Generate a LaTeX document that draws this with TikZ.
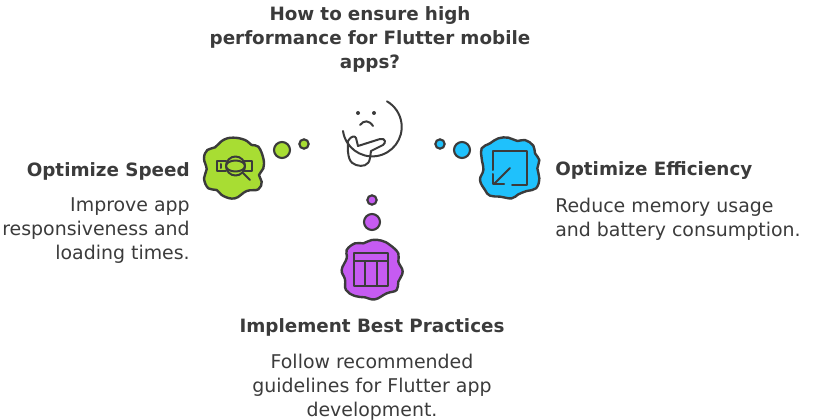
\documentclass[tikz,border=0pt]{standalone}
\usepackage{fontspec}
\setmainfont{DejaVu Sans}
\usetikzlibrary{arrows.meta,positioning}
\definecolor{inkgray}{HTML}{3B3B3B}
\definecolor{leafgreen}{HTML}{A8DD33}
\definecolor{skyblue}{HTML}{1FC1FC}
\definecolor{grapepurple}{HTML}{C65BF2}
\begin{document}
\begin{tikzpicture}[x=0.75pt,y=-0.75pt,>=Stealth,
  head/.style={font=\fontsize{13.75}{17.7}\selectfont\bfseries,text=inkgray,inner sep=0pt,align=center},
  body/.style={font=\fontsize{14.2}{18}\selectfont,text=inkgray,inner sep=0pt},
  bubble/.style={circle,draw=inkgray,line width=1.6pt,inner sep=0pt},
  bigb/.style={bubble,minimum size=12pt},
  smallb/.style={bubble,minimum size=7pt},
  blob/.style={draw=inkgray,line width=1.8pt,line join=round},
  icon/.style={draw=inkgray,line width=1.5pt,line cap=round,line join=round}]
  \useasboundingbox (0,0) rectangle (816,420);

  % texts
  \node[head,text width=345pt] (title) at (370,39.5) {How to ensure high\\performance for Flutter mobile\\apps?};
  \node[head,anchor=east] (speed) at (190,171) {Optimize Speed};
  \node[body,align=right,below left=13pt and 0pt of speed.south east] (speedtxt) {Improve app\\responsiveness and\\loading times.};
  \node[head,anchor=west] (eff) at (555,171) {Optimize Efficiency};
  \node[body,align=left,below right=13pt and 0pt of eff.south west] (efftxt) {Reduce memory usage\\and battery consumption.};
  \node[head] (best) at (372,327) {Implement Best Practices};
  \node[body,align=center,below=13pt of best] (besttxt) {Follow recommended\\guidelines for Flutter app\\development.};

  % thought bubbles
  \node[bigb,fill=leafgreen] (g1) at (282,150) {};
  \node[smallb,fill=leafgreen] (g2) at (304,144) {};
  \node[bigb,fill=skyblue] (b1) at (462,150) {};
  \node[smallb,fill=skyblue] (b2) at (440,144) {};
  \node[bigb,fill=grapepurple] (p1) at (372,222) {};
  \node[smallb,fill=grapepurple] (p2) at (372,200) {};

  % blobs
  \begin{scope}[shift={(190,90)},x=0.25pt,y=-0.25pt]
    \draw[blob,fill=leafgreen] plot[smooth cycle,tension=0.7] coordinates {(130,143) (165,150) (185,165) (205,170) (220,205) (220,235) (207,255) (215,275) (205,298) (170,303) (135,325) (100,318) (80,300) (55,295) (42,265) (50,238) (42,205) (52,180) (75,172) (100,150)};
  \end{scope}
  \begin{scope}[shift={(430,125)},x=0.25pt,y=-0.25pt]
    \draw[blob,fill=skyblue] plot[smooth cycle,tension=0.7] coordinates {(205,40) (235,38) (262,48) (285,45) (310,62) (315,85) (328,105) (322,130) (328,160) (318,190) (290,198) (265,208) (245,220) (210,215) (180,212) (165,195) (150,165) (160,135) (155,100) (155,70) (180,55)};
  \end{scope}
  \begin{scope}[shift={(330,190)},x=0.25pt,y=-0.25pt]
    \draw[blob,fill=grapepurple] plot[smooth cycle,tension=0.7] coordinates {(125,150) (155,152) (180,165) (205,190) (205,215) (218,245) (205,275) (200,300) (170,310) (135,328) (105,322) (75,318) (48,300) (45,268) (35,240) (50,205) (50,180) (75,160) (100,160)};
  \end{scope}

  % face
  \draw[icon] (343,131) arc[start angle=172,end angle=-60,radius=29.5];
  \fill[inkgray] (358,113) circle (2) (374,113) circle (2);
  \draw[icon] (360,125) .. controls (364,120) and (369,120) .. (373,126);
  \draw[icon] (348,141) .. controls (352,135) and (355,136) .. (356,138) -- (358,146)
    -- (380,139) .. controls (386,138) and (386,143) .. (383,145) -- (371,151) -- (370,158)
    .. controls (369,166) and (362,167) .. (356,165) .. controls (350,163) and (347,158) .. (348,141) -- cycle;

  % speed icon
  \draw[icon] (226,161) -- (217,161) -- (217,171) -- (226,171);
  \draw[icon] (243,161) -- (252,161) -- (252,171) -- (243,171);
  \draw[icon] (221,164) -- (221,168);
  \draw[icon] (235.5,166) circle (9.5);
  \draw[icon] (235.5,166) ellipse (9.5 and 5.5);
  \draw[icon] (243,173) -- (250,180);

  % efficiency icon
  \draw[icon] (492.5,170) -- (492.5,151) -- (526.5,151) -- (526.5,185) -- (512,185);
  \draw[icon] (510,168) -- (494,184);
  \draw[icon] (493,174) -- (493,184.5) -- (504,184.5);

  % practices icon
  \draw[icon] (354,252.5) rectangle (387.5,285.5);
  \draw[icon] (354,261) -- (387.5,261);
  \draw[icon] (365,261) -- (365,285.5);
  \draw[icon] (376.5,261) -- (376.5,285.5);
\end{tikzpicture}
\end{document}
